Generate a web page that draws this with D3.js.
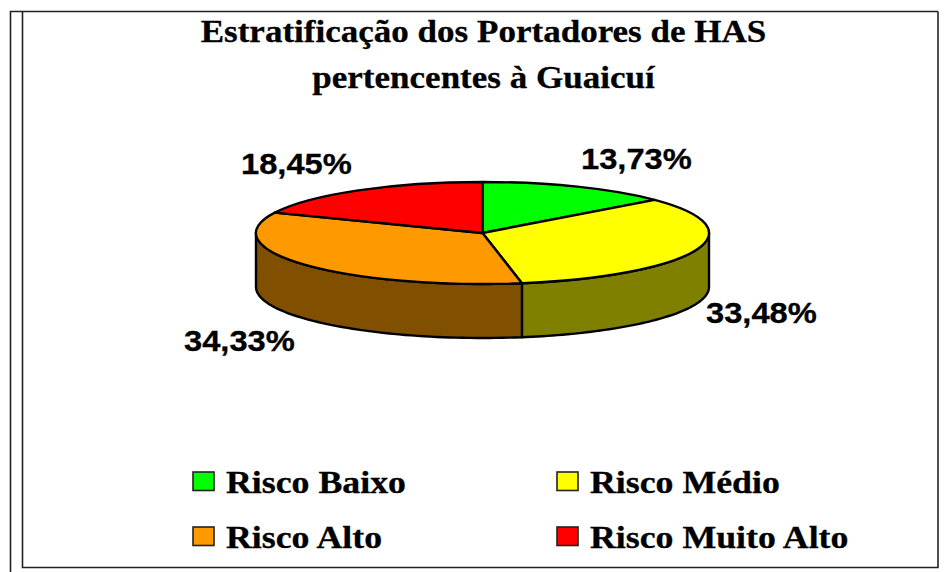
<!DOCTYPE html>
<html>
<head>
<meta charset="utf-8">
<script src="https://cdn.jsdelivr.net/npm/d3@7"></script>
<style>
  html, body { margin: 0; padding: 0; background: #fff; overflow: hidden; }
  svg { display: block; }
  .title { font: bold 32px "Liberation Serif"; text-anchor: middle; }
  .pct { font: bold 30px "Liberation Sans"; }
  .leg { font: bold 31px "Liberation Serif"; }
</style>
</head>
<body>
<svg width="944" height="572"></svg>
<script>
var categories = ['Risco Baixo', 'Risco Médio', 'Risco Alto', 'Risco Muito Alto'];
var values = [13.73, 33.48, 34.33, 18.45];
var labels = ['13,73%', '33,48%', '34,33%', '18,45%'];
var colors = ['#00ff00', '#ffff00', '#ff9900', '#ff0000'];
var wallColors = ['#008000', '#808000', '#804f00', '#800000'];
var titleLines = ['Estratificação dos Portadores de HAS', 'pertencentes à Guaicuí'];

var svg = d3.select('svg');

// the reference text is stretched sideways, so scale x only
function wideText(cls, x, y, k, t) {
    svg.append('text')
        .attr('class', cls)
        .attr('transform', 'translate(' + x + ',' + y + ') scale(' + k + ',1)')
        .attr('stroke', '#000')
        .attr('stroke-width', 0.3)
        .text(t);
}

// frame
var frame = svg.append('g').attr('fill', 'none').attr('stroke', '#222').attr('stroke-width', 1.6);
frame.append('path').attr('d', 'M10.5,572V11.5H938');
frame.append('path').attr('d', 'M22.5,11.5V567.5H938V11.5');

// title
titleLines.forEach(function(t, i) {
    wideText('title', 483.5, 42 + i * 46, 1.095, t);
});

// pie, flattened ellipse
var cx = 482.5, cy = 233, rx = 226.5, ry = 51, depth = 54;
var slices = d3.pie().sort(null)(values);
var arc = d3.arc().innerRadius(0).outerRadius(1);

function pt(a, dy) {
    return [cx + rx * Math.sin(a), cy - ry * Math.cos(a) + dy];
}

// side walls, only the front half of the rim is visible
slices.forEach(function(s, i) {
    var a0 = Math.max(s.startAngle, Math.PI / 2);
    var a1 = Math.min(s.endAngle, Math.PI * 1.5);
    if (a1 <= a0) return;
    var n = 60;
    var angles = d3.range(n + 1).map(function(k) { return a0 + (a1 - a0) * k / n; });
    var top = angles.map(function(a) { return pt(a, 0); });
    var bottom = angles.slice().reverse().map(function(a) { return pt(a, depth); });
    svg.append('path')
        .attr('d', d3.line()(top.concat(bottom)) + 'Z')
        .attr('fill', wallColors[i])
        .attr('stroke', '#000')
        .attr('stroke-width', 2.4)
        .attr('stroke-linejoin', 'round');
});

// top face
svg.append('g')
    .attr('transform', 'translate(' + cx + ',' + cy + ') scale(' + rx + ',' + ry + ')')
    .selectAll('path')
    .data(slices)
    .join('path')
    .attr('d', arc)
    .attr('fill', function(d, i) { return colors[i]; })
    .attr('stroke', '#000')
    .attr('stroke-width', 2.4)
    .attr('stroke-linejoin', 'round')
    .attr('vector-effect', 'non-scaling-stroke');

// percent labels
var labelPos = [[581, 169], [706, 323], [184, 351], [241, 174]];
labels.forEach(function(t, i) {
    wideText('pct', labelPos[i][0], labelPos[i][1], 1.09, t);
});

// legend
var legX = d3.scalePoint().domain([0, 1]).range([193, 557]);
var legY = d3.scalePoint().domain([0, 1]).range([472, 527]);
categories.forEach(function(c, i) {
    var col = i % 2, row = Math.floor(i / 2);
    svg.append('rect')
        .attr('x', legX(col)).attr('y', legY(row))
        .attr('width', 21).attr('height', 18.5)
        .attr('fill', colors[i])
        .attr('stroke', '#222').attr('stroke-width', 1.6);
    wideText('leg', legX(col) + 33, legY(row) + 21, 1.155, c);
});
</script>
</body>
</html>
